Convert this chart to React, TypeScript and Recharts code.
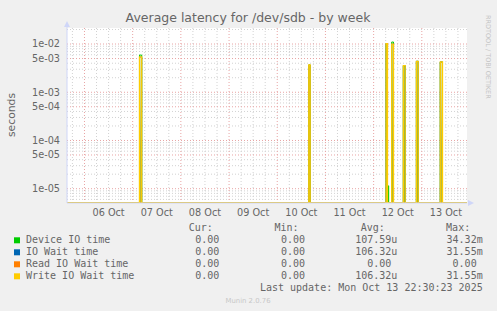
import React from 'react';
import { ComposedChart, Line, Area, XAxis, YAxis, ReferenceLine, CartesianGrid } from 'recharts';

// ---- data (hours since 06 Oct 00:00) ----
const dayLabels = ['06 Oct', '07 Oct', '08 Oct', '09 Oct', '10 Oct', '11 Oct', '12 Oct', '13 Oct'];
const yTickValues = [1e-2, 5e-3, 1e-3, 5e-4, 1e-4, 5e-5, 1e-5];
const yTickLabels = ['1e-02', '5e-03', '1e-03', '5e-04', '1e-04', '5e-05', '1e-05'];

const writeStart = [27.4, 111.7, 150.2, 153.0, 158.8, 165.3, 177.2];
const writeEnd = [28.5, 112.4, 150.9, 153.9, 159.7, 166.2, 178.3];
const writeValues = [5.4e-3, 3.67e-3, 1.02e-2, 1.0e-2, 3.55e-3, 4.38e-3, 4.24e-3];

const ioWaitStart = [27.4, 111.7, 150.2, 153.0, 158.8, 165.3, 177.2];
const ioWaitEnd = [28.5, 112.4, 150.9, 153.9, 159.7, 166.2, 178.3];
const ioWaitValues = [5.4e-3, 3.67e-3, 1.02e-2, 1.0e-2, 3.55e-3, 4.38e-3, 4.24e-3];

const deviceStart = [27.4, 111.7, 150.2, 151.3, 153.0, 158.8, 165.3, 177.2];
const deviceEnd = [28.5, 112.4, 150.9, 151.5, 153.9, 159.7, 166.2, 178.3];
const deviceValues = [5.9e-3, 3.67e-3, 1.02e-2, 1.15e-5, 1.1e-2, 3.55e-3, 4.38e-3, 4.24e-3];

const readStart: number[] = [];
const readEnd: number[] = [];
const readValues: number[] = [];

const legendNames = ['Device IO time', 'IO Wait time', 'Read IO Wait time', 'Write IO Wait time'];
const legendColors = ['#00CC00', '#0066B3', '#FF8000', '#FFCC00'];
const curValues = ['0.00 ', '0.00 ', '0.00 ', '0.00 '];
const minValues = ['0.00 ', '0.00 ', '0.00 ', '0.00 '];
const avgValues = ['107.59u', '106.32u', '0.00 ', '106.32u'];
const maxValues = ['34.32m', '31.55m', '0.00 ', '31.55m'];

// ---- layout ----
const W = 497;
const H = 311;
const PLOT = { left: 67, top: 28, right: 467, bottom: 203 };
const X_DOMAIN: [number, number] = [-8.7, 190.5];
const FLOOR = 5.05e-6; // zero values sit on the floor of the log axis
const Y_DOMAIN: [number, number] = [FLOOR, 2.15e-2];

function spikes(starts: number[], ends: number[], values: number[]) {
  const pts: { t: number; v: number }[] = [{ t: X_DOMAIN[0], v: FLOOR }];
  starts.forEach((s, i) => {
    pts.push({ t: s, v: FLOOR }, { t: s, v: values[i] }, { t: ends[i], v: values[i] }, { t: ends[i], v: FLOOR });
  });
  pts.push({ t: X_DOMAIN[1], v: FLOOR });
  return pts;
}

const writeData = spikes(writeStart, writeEnd, writeValues);
const ioWaitData = spikes(ioWaitStart, ioWaitEnd, ioWaitValues);
const deviceData = spikes(deviceStart, deviceEnd, deviceValues);
const readData = spikes(readStart, readEnd, readValues);

const dayTicks = dayLabels.map((_, i) => 12 + 24 * i);
const majorX: number[] = [];
const minorX: number[] = [];
for (let h = -6; h <= 190; h += 6) (h % 24 === 0 ? majorX : minorX).push(h);
const majorY: number[] = [];
const minorY: number[] = [];
for (let e = -6; e <= -2; e++) {
  for (let m = 1; m <= 9; m++) {
    const v = m * Math.pow(10, e);
    if (v < Y_DOMAIN[0] || v > Y_DOMAIN[1]) continue;
    (m === 1 || m === 5 ? majorY : minorY).push(v);
  }
}

const FONT = "'DejaVu Sans', sans-serif";
const MONO = "'DejaVu Sans Mono', monospace";
const TXT = '#666666';
const AXIS = '#CFD6F8';
const MINOR = '#d2d2d2';
const MAJOR = '#e8a4a4';

const colEnds = [225.3, 311, 397.3, 482.7];
const headers = ['Cur:', 'Min:', 'Avg:', 'Max:'];
const cols = [curValues, minValues, avgValues, maxValues];

export default function App() {
  return (
    <div style={{ position: 'fixed', left: 0, top: 0, width: W, height: H, background: '#F0F0F0', overflow: 'hidden' }}>
      <div style={{ position: 'absolute', left: 0, top: 0 }}>
        <ComposedChart
          width={W}
          height={H}
          margin={{ top: PLOT.top, right: W - PLOT.right, bottom: H - PLOT.bottom - 30, left: 0 }}
        >
          <CartesianGrid fill="#FFFFFF" horizontal={false} vertical={false} />
          <XAxis
            dataKey="t"
            type="number"
            domain={X_DOMAIN}
            allowDataOverflow
            ticks={dayTicks}
            tickFormatter={(v: number) => dayLabels[Math.round((v - 12) / 24)]}
            height={30}
            tickLine={false}
            tickSize={4}
            tickMargin={2}
            axisLine={{ stroke: AXIS }}
            tick={{ fontFamily: FONT, fontSize: 9.7, fill: TXT }}
            interval={0}
          />
          <YAxis
            type="number"
            scale="log"
            domain={Y_DOMAIN}
            allowDataOverflow
            ticks={yTickValues}
            tickFormatter={(v: number) => yTickLabels[yTickValues.indexOf(v)] ?? ''}
            width={PLOT.left}
            tickLine={false}
            tickSize={5}
            tickMargin={2}
            axisLine={{ stroke: AXIS }}
            tick={{ fontFamily: FONT, fontSize: 9.7, fill: TXT }}
            interval={0}
          />
          {minorX.map((h) => (
            <ReferenceLine key={'mx' + h} x={h} stroke={MINOR} strokeDasharray="1 2" />
          ))}
          {minorY.map((v) => (
            <ReferenceLine key={'my' + v} y={v} stroke={MINOR} strokeDasharray="1 2" />
          ))}
          {majorX.map((h) => (
            <ReferenceLine key={'Mx' + h} x={h} stroke={MAJOR} strokeDasharray="1 2" />
          ))}
          {majorY.map((v) => (
            <ReferenceLine key={'My' + v} y={v} stroke={MAJOR} strokeDasharray="1 2" />
          ))}
          <defs>
            <linearGradient id="spikeFill" gradientUnits="userSpaceOnUse" x1="0" y1={PLOT.top + 16} x2="0" y2={PLOT.top + 120}>
              <stop offset="0%" stopColor="#e4efcc" />
              <stop offset="100%" stopColor="#b3b83c" />
            </linearGradient>
          </defs>
          <Area
            data={writeData}
            dataKey="v"
            type="linear"
            stroke="none"
            fill="url(#spikeFill)"
            fillOpacity={1}
            baseValue={FLOOR}
            isAnimationActive={false}
          />
          <Line data={deviceData} dataKey="v" type="linear" stroke="#00CC00" strokeWidth={1} dot={false} isAnimationActive={false} />
          <Line data={ioWaitData} dataKey="v" type="linear" stroke="#0066B3" strokeWidth={1} dot={false} isAnimationActive={false} />
          <Line data={readData} dataKey="v" type="linear" stroke="#FF8000" strokeWidth={1} dot={false} isAnimationActive={false} />
          <Line data={writeData} dataKey="v" type="linear" stroke="#FFCC00" strokeWidth={1.3} dot={false} isAnimationActive={false} />
        </ComposedChart>
      </div>
      <svg width={W} height={H} style={{ position: 'absolute', left: 0, top: 0, pointerEvents: 'none' }}>
        <polygon points={`${PLOT.left - 3},${PLOT.top - 1} ${PLOT.left + 3},${PLOT.top - 1} ${PLOT.left},${PLOT.top - 7}`} fill={AXIS} />
        <polygon points={`${PLOT.right + 1},${PLOT.bottom - 3} ${PLOT.right + 1},${PLOT.bottom + 3} ${PLOT.right + 7},${PLOT.bottom}`} fill={AXIS} />
        <line x1={PLOT.left} y1={PLOT.top - 1} x2={PLOT.left} y2={PLOT.top} stroke={AXIS} />
        <text x={248} y={22} textAnchor="middle" fontFamily={FONT} fontSize={12.5} fill={TXT}>
          Average latency for /dev/sdb - by week
        </text>
        <text transform="translate(14.5,115) rotate(-90)" textAnchor="middle" fontFamily={FONT} fontSize={10.8} fill={TXT}>
          seconds
        </text>
        <text transform="translate(486,15) rotate(90)" textAnchor="start" fontFamily={FONT} fontSize={6.5} fill="#c4c4c4">
          RRDTOOL / TOBI OETIKER
        </text>
        {headers.map((h, i) => (
          <text key={h} x={colEnds[i] - 12.5} y={230.7} textAnchor="end" fontFamily={MONO} fontSize={10} fill={TXT}>
            {h}
          </text>
        ))}
        {legendNames.map((name, r) => (
          <g key={name}>
            <rect x={14} y={237.3 + 12 * r} width={6} height={6} fill={legendColors[r]} />
            <text x={26} y={243.3 + 12 * r} fontFamily={MONO} fontSize={10} fill={TXT}>
              {name}
            </text>
            {cols.map((c, i) => (
              <text key={i} x={colEnds[i]} y={243.3 + 12 * r} textAnchor="end" fontFamily={MONO} fontSize={10} fill={TXT}>
                {c[r].replace(/ $/, '\u00a0')}
              </text>
            ))}
          </g>
        ))}
        <text x={482.7} y={290.8} textAnchor="end" fontFamily={MONO} fontSize={10} fill={TXT}>
          Last update: Mon Oct 13 22:30:23 2025
        </text>
        <text x={248} y={303.3} textAnchor="middle" fontFamily={FONT} fontSize={6.9} fill="#c8c8c8">
          Munin 2.0.76
        </text>
      </svg>
    </div>
  );
}
